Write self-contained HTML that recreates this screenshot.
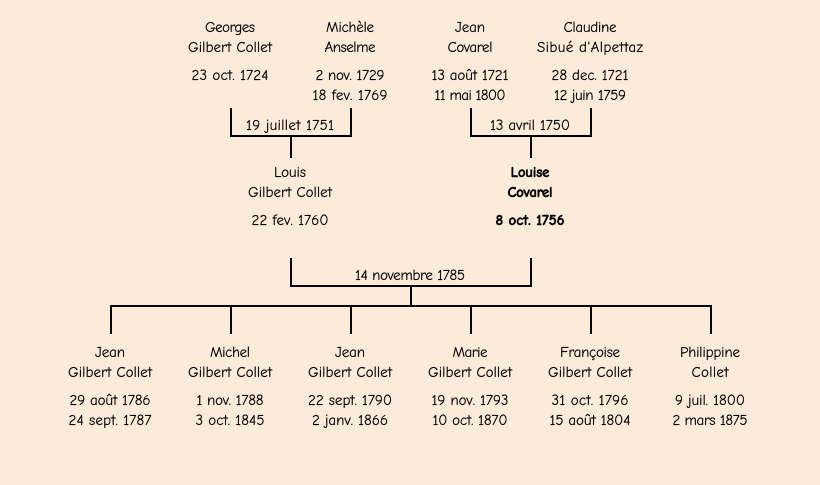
<!DOCTYPE html>
<html><head><meta charset="utf-8"><style>
html,body{margin:0;padding:0;background:#fdebd9}
svg{display:block}
text{font-family:"Comic Sans MS","Comic Neue",cursive,"Liberation Sans",sans-serif;font-size:15px;fill:#000;stroke:#000;stroke-width:.15px;text-anchor:middle}
.b{font-weight:bold;stroke-width:.4px}
</style></head><body>
<svg width="820" height="485" xmlns="http://www.w3.org/2000/svg">
<rect width="820" height="485" fill="#fdebd9"/>
<g fill="none" stroke="#000" stroke-width="2">
<path d="M231 108V136H351V108M291 136V158"/>
<path d="M471 108V136H591V108M531 136V158"/>
<path d="M291 258V286H531V258M411 286V306"/>
<path d="M111 334V306H711V334M231 306V334M351 306V334M471 306V334M591 306V334"/>
</g>
<text x="230" y="32" textLength="50">Georges</text><text x="230" y="52" textLength="84">Gilbert Collet</text><text x="230" y="80" textLength="77">23 oct. 1724</text>
<text x="350" y="32" textLength="48">Michèle</text><text x="350" y="52" textLength="51">Anselme</text><text x="350" y="80" textLength="69">2 nov. 1729</text><text x="350" y="100" textLength="75">18 fev. 1769</text>
<text x="470" y="32" textLength="30">Jean</text><text x="470" y="52" textLength="45">Covarel</text><text x="470" y="80" textLength="77">13 août 1721</text><text x="470" y="100" textLength="71">11 mai 1800</text>
<text x="590" y="32" textLength="53">Claudine</text><text x="590" y="52" textLength="106">Sibué d'Alpettaz</text><text x="590" y="80" textLength="77">28 dec. 1721</text><text x="590" y="100" textLength="72">12 juin 1759</text>
<text x="290" y="130" textLength="88">19 juillet 1751</text><text x="530" y="130" textLength="80">13 avril 1750</text>
<text x="290" y="177" textLength="32">Louis</text><text x="290" y="197" textLength="84">Gilbert Collet</text><text x="290" y="225" textLength="77">22 fev. 1760</text>
<text class="b" x="530" y="177" textLength="39">Louise</text><text class="b" x="530" y="197" textLength="45">Covarel</text><text class="b" x="530" y="225" textLength="69">8 oct. 1756</text>
<text x="410" y="280" textLength="110">14 novembre 1785</text>
<text x="110" y="357" textLength="30">Jean</text><text x="110" y="377" textLength="84">Gilbert Collet</text><text x="110" y="405" textLength="81">29 août 1786</text><text x="110" y="425" textLength="83">24 sept. 1787</text>
<text x="230" y="357" textLength="40">Michel</text><text x="230" y="377" textLength="84">Gilbert Collet</text><text x="230" y="405" textLength="67">1 nov. 1788</text><text x="230" y="425" textLength="69">3 oct. 1845</text>
<text x="350" y="357" textLength="30">Jean</text><text x="350" y="377" textLength="84">Gilbert Collet</text><text x="350" y="405" textLength="84">22 sept. 1790</text><text x="350" y="425" textLength="76">2 janv. 1866</text>
<text x="470" y="357" textLength="35">Marie</text><text x="470" y="377" textLength="84">Gilbert Collet</text><text x="470" y="405" textLength="77">19 nov. 1793</text><text x="470" y="425" textLength="75">10 oct. 1870</text>
<text x="590" y="357" textLength="60">Françoise</text><text x="590" y="377" textLength="84">Gilbert Collet</text><text x="590" y="405" textLength="77">31 oct. 1796</text><text x="590" y="425" textLength="81">15 août 1804</text>
<text x="710" y="357" textLength="60">Philippine</text><text x="710" y="377" textLength="37">Collet</text><text x="710" y="405" textLength="70">9 juil. 1800</text><text x="710" y="425" textLength="75">2 mars 1875</text>
</svg>
</body></html>
